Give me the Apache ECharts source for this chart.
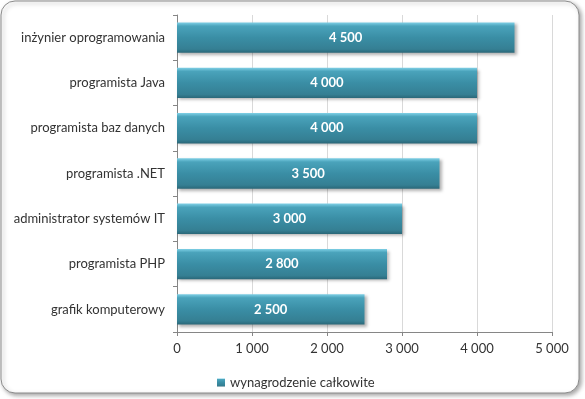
<!DOCTYPE html>
<html>
<head>
<meta charset="utf-8">
<script src="https://cdn.jsdelivr.net/npm/echarts@6/dist/echarts.min.js"></script>
<style>
  html, body { margin: 0; padding: 0; background: #fff; }
  #chart { width: 585px; height: 399px; }
</style>
</head>
<body>
<div id="chart"></div>
<script>
const categories = [
  "inżynier oprogramowania",
  "programista Java",
  "programista baz danych",
  "programista .NET",
  "administrator systemów IT",
  "programista PHP",
  "grafik komputerowy",
];
const salaries = [4500, 4000, 4000, 3500, 3000, 2800, 2500];
const xTicks = [0, 1000, 2000, 3000, 4000, 5000];
const seriesName = "wynagrodzenie całkowite";

function fmt(v) {
  return String(v).replace(/\B(?=(\d{3})+(?!\d))/g, " ");
}

const font = "Lato, 'Open Sans', sans-serif";

echarts.init(document.getElementById("chart")).setOption({
  animation: false,
  backgroundColor: "#fff",
  graphic: [
    {
      type: "rect",
      z: -10,
      shape: { x: 1, y: 1, width: 578, height: 392, r: 14 },
      style: {
        fill: "#fff",
        stroke: "#8c8c8c",
        lineWidth: 1,
        shadowBlur: 4,
        shadowOffsetX: 2,
        shadowOffsetY: 2,
        shadowColor: "rgba(0,0,0,0.35)",
      },
    },
  ],
  grid: { left: 177, right: 33, top: 15, bottom: 67 },
  legend: {
    left: 212,
    top: 371,
    itemWidth: 8,
    itemHeight: 8,
    icon: "rect",
    textStyle: { fontFamily: font, fontSize: 13, color: "#333" },
    data: [seriesName],
  },
  xAxis: {
    type: "value",
    min: xTicks[0],
    max: xTicks[xTicks.length - 1],
    interval: 1000,
    axisLine: { show: true, lineStyle: { color: "#868686" } },
    axisTick: { show: true, length: 4, lineStyle: { color: "#868686" } },
    splitLine: { lineStyle: { color: "#d9d9d9" } },
    axisLabel: {
      fontFamily: font,
      fontSize: 13,
      color: "#333",
      margin: 10,
      formatter: (v) => fmt(v),
    },
  },
  yAxis: {
    type: "category",
    inverse: true,
    data: categories,
    axisLine: { show: true, lineStyle: { color: "#868686" } },
    axisTick: { show: true, length: 4, lineStyle: { color: "#868686" } },
    axisLabel: { fontFamily: font, fontSize: 13, color: "#333", margin: 12 },
  },
  series: [
    {
      name: seriesName,
      type: "bar",
      data: salaries,
      barCategoryGap: "33%",
      itemStyle: {
        color: new echarts.graphic.LinearGradient(0, 0, 0, 1, [
          { offset: 0, color: "#7fd0e6" },
          { offset: 0.12, color: "#4aa3bb" },
          { offset: 0.5, color: "#3a8ea5" },
          { offset: 0.88, color: "#357f93" },
          { offset: 1, color: "#2a6778" },
        ]),
        shadowBlur: 3,
        shadowOffsetX: 2,
        shadowOffsetY: 2,
        shadowColor: "rgba(0,0,0,0.3)",
      },
      label: {
        show: true,
        position: "inside",
        color: "#fff",
        fontFamily: font,
        fontWeight: "bold",
        fontSize: 13,
        formatter: (p) => fmt(p.value),
      },
    },
  ],
});
</script>
</body>
</html>
